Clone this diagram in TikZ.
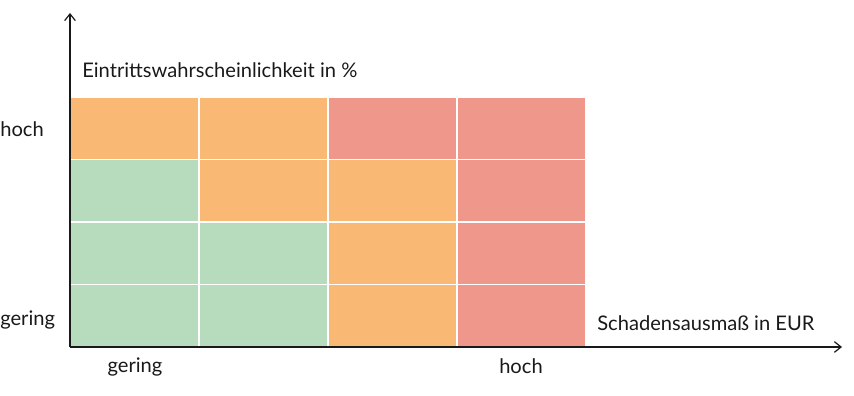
\documentclass[tikz,border=0pt]{standalone}
\usepackage{fontspec}
\setmainfont{Lato}
\usetikzlibrary{arrows.meta,positioning}
\definecolor{riskGreen}{RGB}{182,220,189}
\definecolor{riskOrange}{RGB}{249,184,115}
\definecolor{riskRed}{RGB}{240,151,139}
\definecolor{axisgray}{RGB}{25,25,25}
\tikzset{
  cell/.style={draw=white, line width=1.3pt},
  axislabel/.style={text=axisgray, font=\fontsize{15.1}{17}\selectfont, inner sep=0pt},
  axisline/.style={axisgray, line width=0.9pt, -{Straight Barb[length=5pt,width=8pt]}}
}
\begin{document}
\begin{tikzpicture}[x=0.75pt,y=0.75pt]
    \useasboundingbox (0,0) rectangle (854,396);

    % risk cells: column / row (from top) / colour
    \foreach \c/\r/\col in {0/0/riskOrange,1/0/riskOrange,2/0/riskRed,3/0/riskRed,
                            0/1/riskGreen,1/1/riskOrange,2/1/riskOrange,3/1/riskRed,
                            0/2/riskGreen,1/2/riskGreen,2/2/riskOrange,3/2/riskRed,
                            0/3/riskGreen,1/3/riskGreen,2/3/riskOrange,3/3/riskRed}
        \draw[cell, fill=\col] ({70+129*\c},{299-62.5*\r}) rectangle ++(129,-62.5);

    % axes
    \coordinate (origin) at (70,49);
    \coordinate (ytip) at (70,383);
    \coordinate (xtip) at (842,49);
    \draw[axisline] (origin) -- (ytip);
    \draw[axisline] (origin) -- (xtip);

    % labels
    \node[axislabel, anchor=west] (ylabel) at (82,326) {Eintrittswahrscheinlichkeit in \%};
    \node[axislabel, anchor=west] (xlabel) at (597,73) {Schadensausmaß in EUR};
    \node[axislabel, anchor=west] (yhigh) at (0,267) {hoch};
    \node[axislabel, anchor=west] (ylow) at (0,76) {gering};
    \node[axislabel] (xlow) at (135,29) {gering};
    \node[axislabel] (xhigh) at (521,30) {hoch};
\end{tikzpicture}
\end{document}
